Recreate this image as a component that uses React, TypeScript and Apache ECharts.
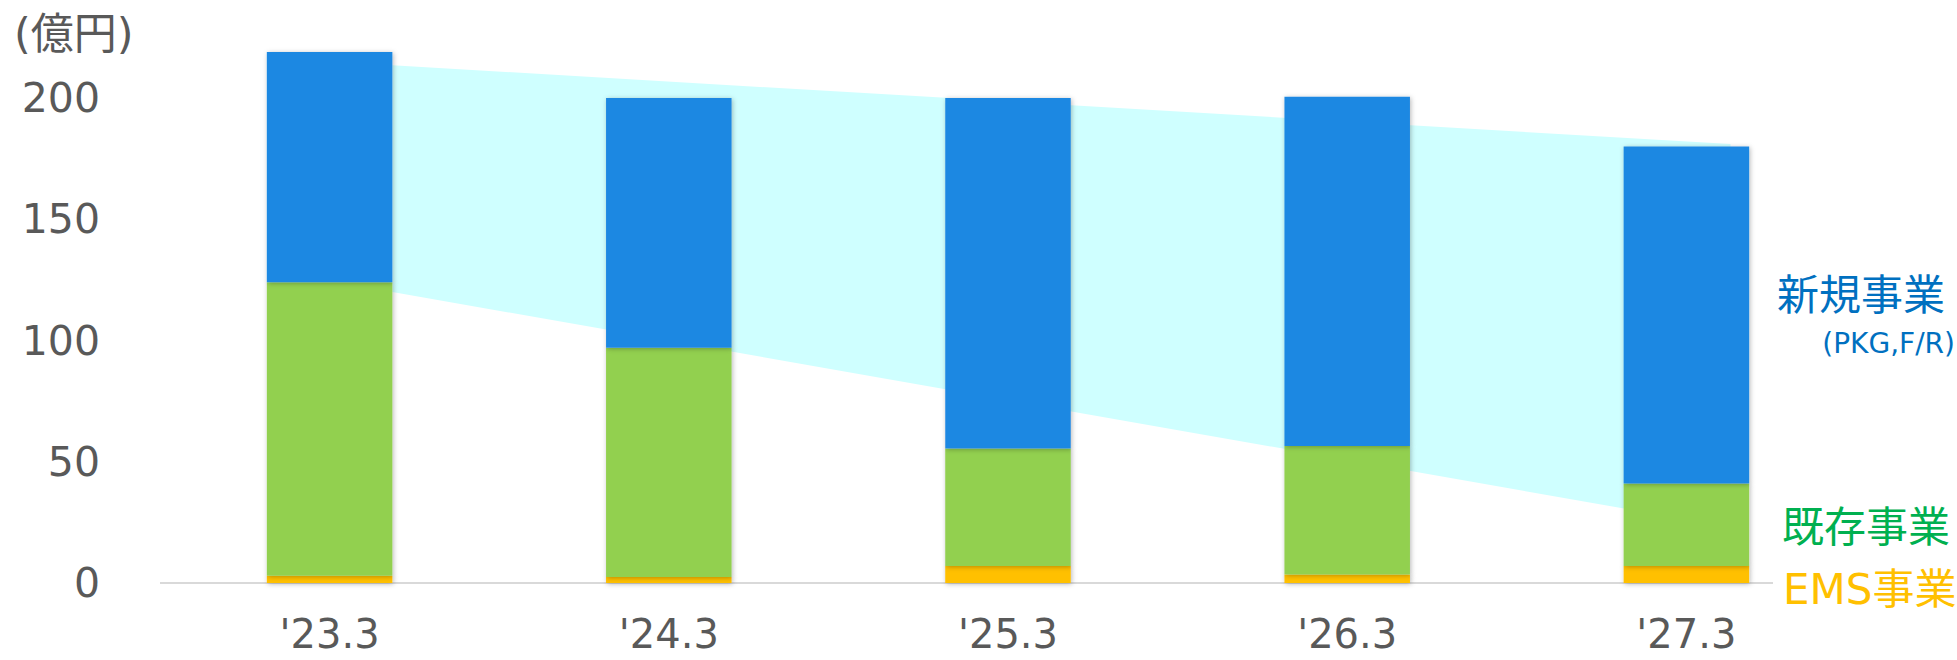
import React, { useEffect, useRef } from "react";
import * as echarts from "echarts";

// Fiscal periods on the category axis
const categories = ["'23.3", "'24.3", "'25.3", "'26.3", "'27.3"];

// Sales by business segment (億円), stacked bottom to top
const emsValues = [3, 2.5, 7, 3.5, 7];
const existingValues = [121, 94.5, 48.5, 53, 34];
const newValues = [95, 103, 144.5, 144, 139];

// Light band behind the bars: upper / lower edge values at '23.3 and '27.3
const bandTop = [213.5, 181];
const bandBottom = [120, 23];

const seriesNames = ["EMS事業", "既存事業", "新規事業"];

const FONT = "'DejaVu Sans', 'Noto Sans CJK JP', sans-serif";
const GREY = "#595959";
const BAR_RATIO = 0.37;

export default function App() {
  const ref = useRef<HTMLDivElement>(null);

  useEffect(() => {
    if (!ref.current) return;
    const chart = echarts.init(ref.current, undefined, { renderer: "svg" });

    const barShadow = {
      shadowBlur: 5,
      shadowColor: "rgba(0,0,0,0.28)",
      shadowOffsetX: 1,
      shadowOffsetY: 1,
    };

    chart.setOption({
      animation: false,
      grid: { left: 160, right: 101, top: 25.25, bottom: 77 },
      xAxis: {
        type: "category",
        data: categories,
        axisLine: { show: false },
        axisTick: { show: false },
        axisLabel: {
          color: GREY,
          fontSize: 40,
          fontFamily: FONT,
          margin: 31,
        },
      },
      yAxis: {
        type: "value",
        min: 0,
        max: 230,
        interval: 50,
        axisLine: { show: false },
        axisTick: { show: false },
        splitLine: { show: false },
        axisLabel: {
          color: GREY,
          fontSize: 41,
          fontFamily: FONT,
          margin: 60,
          showMaxLabel: false,
        },
      },
      series: [
        {
          type: "custom",
          name: "band",
          z: 1,
          silent: true,
          data: [
            [0, bandTop[0], bandBottom[0]],
            [4, bandTop[1], bandBottom[1]],
          ],
          renderItem: (params: any, api: any) => {
            if (params.dataIndex !== 0) return null;
            const band = api.size([1, 0])[0];
            const x0 = api.coord([0, 0])[0] + (band * BAR_RATIO) / 2;
            const x1 = api.coord([4, 0])[0] + band * 0.13;
            const yT0 = api.coord([0, bandTop[0]])[1];
            const yB0 = api.coord([0, bandBottom[0]])[1];
            const yT1 = api.coord([4, bandTop[1]])[1];
            const yB1 = api.coord([4, bandBottom[1]])[1];
            return {
              type: "polygon",
              shape: {
                points: [
                  [x0, yT0],
                  [x1, yT1],
                  [x1, yB1],
                  [x0, yB0],
                ],
              },
              style: { fill: "#CFFFFF" },
            };
          },
        },
        {
          type: "bar",
          name: seriesNames[0],
          stack: "total",
          z: 3,
          barWidth: `${BAR_RATIO * 100}%`,
          data: emsValues,
          itemStyle: { color: "#FFC000", ...barShadow },
        },
        {
          type: "bar",
          name: seriesNames[1],
          stack: "total",
          z: 3,
          barWidth: `${BAR_RATIO * 100}%`,
          data: existingValues,
          itemStyle: { color: "#92D050", ...barShadow },
        },
        {
          type: "bar",
          name: seriesNames[2],
          stack: "total",
          z: 3,
          barWidth: `${BAR_RATIO * 100}%`,
          data: newValues,
          itemStyle: { color: "#1F88E2", ...barShadow },
        },
      ],
      graphic: [
        {
          type: "line",
          z: 2,
          shape: { x1: 160, y1: 583, x2: 1773, y2: 583 },
          style: { stroke: "#D9D9D9", lineWidth: 2 },
        },
        {
          type: "text",
          x: 14,
          y: 34,
          style: {
            text: "(億円)",
            fill: GREY,
            fontSize: 43,
            fontFamily: FONT,
            verticalAlign: "middle",
          },
        },
        {
          type: "text",
          x: 1777,
          y: 295,
          style: {
            text: seriesNames[2],
            fill: "#0070C0",
            fontSize: 42,
            fontFamily: FONT,
            verticalAlign: "middle",
          },
        },
        {
          type: "text",
          x: 1955,
          y: 343,
          style: {
            text: "(PKG,F/R)",
            fill: "#0070C0",
            fontSize: 28,
            fontFamily: FONT,
            align: "right",
            verticalAlign: "middle",
          },
        },
        {
          type: "text",
          x: 1782,
          y: 527,
          style: {
            text: seriesNames[1],
            fill: "#00B050",
            fontSize: 42,
            fontFamily: FONT,
            verticalAlign: "middle",
          },
        },
        {
          type: "text",
          x: 1783,
          y: 589,
          style: {
            text: seriesNames[0],
            fill: "#FFC000",
            fontSize: 42,
            fontFamily: FONT,
            verticalAlign: "middle",
          },
        },
      ],
    });

    return () => chart.dispose();
  }, []);

  return (
    <div
      ref={ref}
      style={{ position: "absolute", left: 0, top: 0, width: 1957, height: 660 }}
    />
  );
}
